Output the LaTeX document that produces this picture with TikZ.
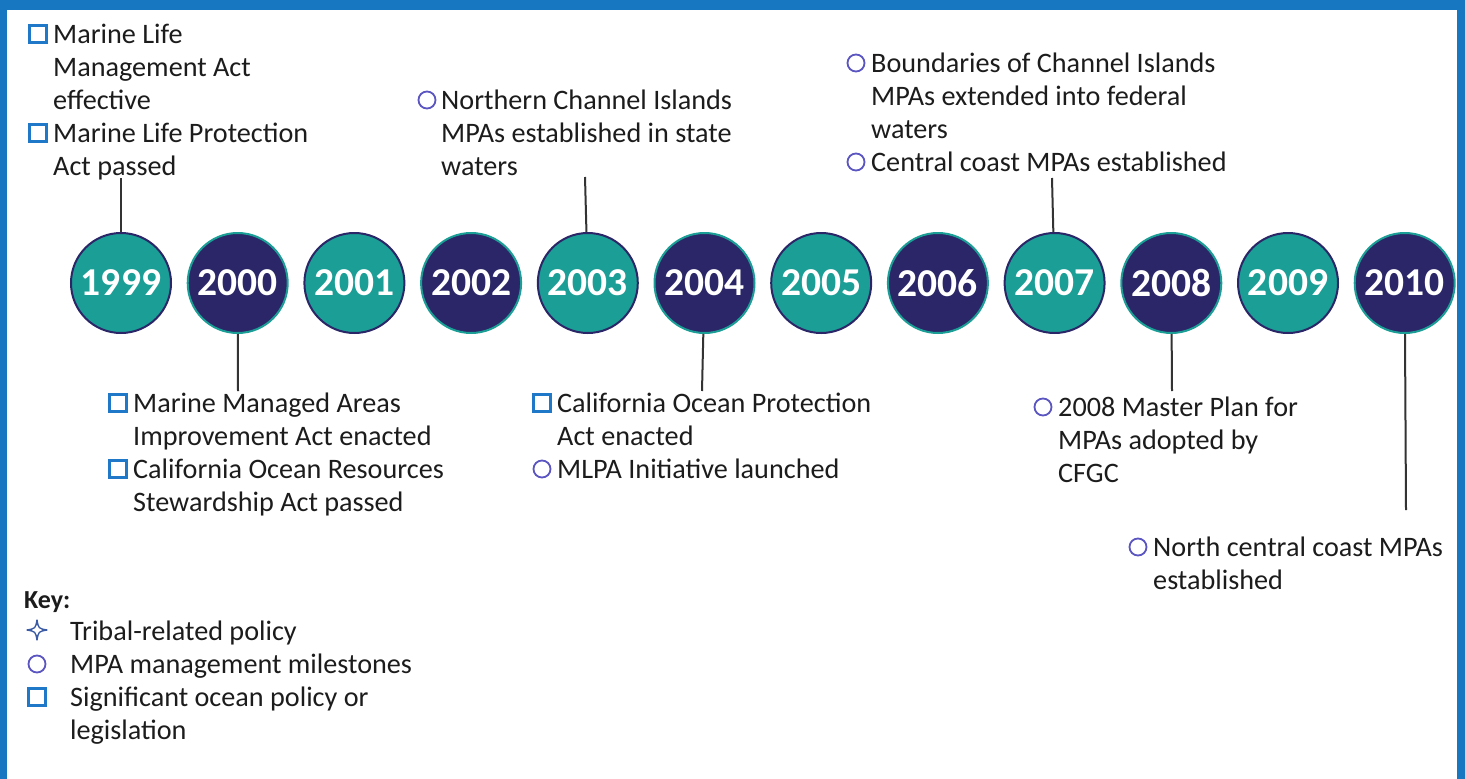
\documentclass[tikz,border=0pt]{standalone}
\usepackage{fontspec}
\setmainfont{Carlito}
\usepackage{tikz}
\usetikzlibrary{positioning}

\definecolor{frameblue}{HTML}{1777C0}
\definecolor{tealfill}{HTML}{1A9E96}
\definecolor{navyfill}{HTML}{2B2667}
\definecolor{sqblue}{HTML}{1F78C8}
\definecolor{cpurple}{HTML}{5A55C0}
\definecolor{starblue}{HTML}{3B5BA5}
\definecolor{textgray}{HTML}{1C1C1C}
\definecolor{linegray}{HTML}{333333}

\tikzset{
  yearc/.style={circle, minimum size=100pt, inner sep=0pt, line width=2pt, text=white,
    font=\fontsize{39.5}{42}\selectfont\bfseries},
  tealyear/.style={yearc, fill=tealfill, draw=navyfill},
  navyyear/.style={yearc, fill=navyfill, draw=tealfill},
  entry/.style={anchor=base west, inner sep=0pt, align=left, text=textgray,
    font=\fontsize{28.2}{33}\selectfont},
  sqicon/.style={draw=sqblue, line width=2.2pt, minimum size=17pt, inner sep=0pt},
  cicon/.style={circle, draw=cpurple, line width=1.8pt, minimum size=17pt, inner sep=0pt},
  conn/.style={draw=linegray, line width=2pt}
}

\begin{document}
\begin{tikzpicture}[x=1pt, y=-1pt]
  \useasboundingbox (0,0) rectangle (1465,779);
  % frame
  \fill[frameblue] (0,0) rectangle (1465,10);
  \fill[frameblue] (0,0) rectangle (7,779);
  \fill[frameblue] (1457,0) rectangle (1465,779);

  % year circles
  \foreach \yr in {1999,2001,...,2009}
    \node[tealyear] (y\yr) at ({121+(\yr-1999)*116.7},283) {\yr};
  \foreach \yr in {2000,2002,...,2010}
    \node[navyyear] (y\yr) at ({121+(\yr-1999)*116.7},283) {\yr};

  % 1999 (entries sit on the baseline of their last line)
  \node[entry] (e1999a) at (53,109) {Marine Life\\Management Act\\effective};
  \node[entry] (e1999b) at (53,175) {Marine Life Protection\\Act passed};
  \node[sqicon] (i1999a) at (38,34) {};
  \node[sqicon] (i1999b) at (38,133) {};
  \coordinate (c1999) at (121,178);
  \draw[conn] (y1999) -- (c1999);

  % 2000
  \node[entry] (e2000a) at (133,445) {Marine Managed Areas\\Improvement Act enacted};
  \node[entry] (e2000b) at (133,511) {California Ocean Resources\\Stewardship Act passed};
  \node[sqicon] (i2000a) at (118,403) {};
  \node[sqicon] (i2000b) at (118,469) {};
  \coordinate (c2000) at (238,391);
  \draw[conn] (y2000) -- (c2000);

  % 2003
  \node[entry] (e2003) at (441,175) {Northern Channel Islands\\MPAs established in state\\waters};
  \node[cicon] (i2003) at (427,100) {};
  \coordinate (c2003) at (585,177);
  \draw[conn] (y2003) -- (c2003);

  % 2004
  \node[entry] (e2004a) at (557,445) {California Ocean Protection\\Act enacted};
  \node[entry] (e2004b) at (557,478) {MLPA Initiative launched};
  \node[sqicon] (i2004a) at (542,403) {};
  \node[cicon] (i2004b) at (542,469) {};
  \coordinate (c2004) at (702,391);
  \draw[conn] (y2004) -- (c2004);

  % 2007
  \node[entry] (e2007a) at (871,138) {Boundaries of Channel Islands\\MPAs extended into federal\\waters};
  \node[entry] (e2007b) at (871,171) {Central coast MPAs established};
  \node[cicon] (i2007a) at (856,63) {};
  \node[cicon] (i2007b) at (856,162) {};
  \coordinate (c2007) at (1052,178);
  \draw[conn] (y2007) -- (c2007);

  % 2008
  \node[entry] (e2008) at (1058,482) {2008 Master Plan for\\MPAs adopted by\\CFGC};
  \node[cicon] (i2008) at (1043,407) {};
  \coordinate (c2008) at (1172,391);
  \draw[conn] (y2008) -- (c2008);

  % 2010
  \node[entry] (e2010) at (1153,589) {North central coast MPAs\\established};
  \node[cicon] (i2010) at (1138,547) {};
  \coordinate (c2010) at (1406,510);
  \draw[conn] (y2010) -- (c2010);

  % key
  \node[entry, font=\fontsize{26}{30}\selectfont\bfseries] (key) at (24,608) {Key:};
  \node[entry] (k1) at (70,640) {Tribal-related policy};
  \node[entry] (k2) at (70,673) {MPA management milestones};
  \node[entry] (k3) at (70,739) {Significant ocean policy or\\legislation};
  \draw[starblue, line width=1.4pt, line join=round] (37,620) .. controls (38.5,628.5) .. (47,630)
    .. controls (38.5,631.5) .. (37,640) .. controls (35.5,631.5) .. (27,630)
    .. controls (35.5,628.5) .. cycle;
  \node[cicon] (ik2) at (37,664) {};
  \node[sqicon] (ik3) at (37,697) {};
\end{tikzpicture}
\end{document}
